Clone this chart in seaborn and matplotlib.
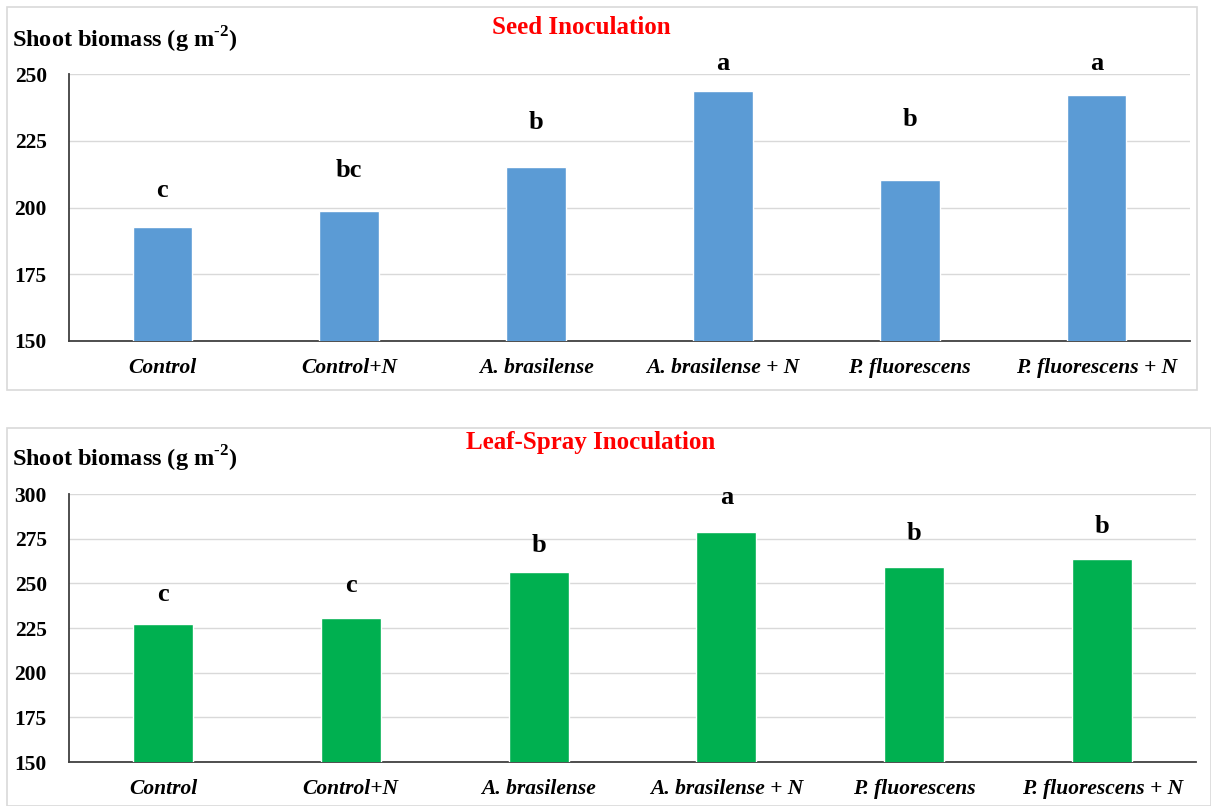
import pandas as pd
import matplotlib.pyplot as plt
import seaborn as sns
from matplotlib.patches import Rectangle

treatments = ['Control', 'Control+N', 'A. brasilense', 'A. brasilense + N',
              'P. fluorescens', 'P. fluorescens + N']

seed_biomass = [192.7, 198.7, 215.2, 243.6, 210.3, 242.1]
seed_letters = ['c', 'bc', 'b', 'a', 'b', 'a']
seed_letter_y = [206.5, 213.7, 232, 254, 233, 254]

spray_biomass = [227.2, 230.6, 256.3, 278.7, 259.1, 263.6]
spray_letters = ['c', 'c', 'b', 'a', 'b', 'b']
spray_letter_y = [243.5, 249, 271.4, 298.3, 278, 282]

sns.set_theme(style="white")
plt.rcParams['font.family'] = ['Liberation Serif', 'DejaVu Serif']
plt.rcParams['mathtext.fontset'] = 'custom'
plt.rcParams['mathtext.rm'] = 'Liberation Serif:bold'
plt.rcParams['mathtext.bf'] = 'Liberation Serif:bold'
plt.rcParams['text.color'] = 'black'

W, H = 1211, 806
fig = plt.figure(figsize=(W / 100, H / 100), dpi=100)


def px(x0, y0, x1, y1):
    return [x0 / W, 1 - y1 / H, (x1 - x0) / W, (y1 - y0) / H]


def panel(box, frame, values, letters, letter_y, color, ylim, title, title_xy, label_xy):
    fig.patches.append(Rectangle((frame[0] / W, 1 - frame[3] / H),
                                 (frame[2] - frame[0]) / W, (frame[3] - frame[1]) / H,
                                 transform=fig.transFigure, fill=False,
                                 edgecolor='#D9D9D9', linewidth=1.2))
    ax = fig.add_axes(px(*box))
    df = pd.DataFrame({'treatment': treatments, 'biomass': values})
    sns.barplot(data=df, x='treatment', y='biomass', color=color, width=0.32,
                saturation=1, ax=ax, zorder=3)
    ax.set_ylim(*ylim)
    ax.set_yticks(range(ylim[0], ylim[1] + 1, 25))
    ax.yaxis.grid(True, color='#D9D9D9', linewidth=1, zorder=0)
    ax.set_axisbelow(True)
    for s in ['top', 'right']:
        ax.spines[s].set_visible(False)
    ax.spines['left'].set_color('#404040')
    ax.spines['bottom'].set_color('#404040')
    ax.spines['left'].set_linewidth(1.3)
    ax.spines['bottom'].set_linewidth(1.3)
    ax.set_xlabel('')
    ax.set_ylabel('')
    ax.tick_params(axis='y', length=0, pad=16, colors='black')
    ax.tick_params(axis='x', length=0, pad=12, colors='black')
    for t in ax.get_yticklabels():
        t.set_fontsize(15.5)
        t.set_fontweight('bold')
    for t in ax.get_xticklabels():
        t.set_fontsize(15.5)
        t.set_fontweight('bold')
        t.set_fontstyle('italic')
    for i, (lab, ly) in enumerate(zip(letters, letter_y)):
        ax.text(i, ly, lab, ha='center', va='center', fontsize=19, fontweight='bold')
    fig.text(title_xy[0] / W, 1 - title_xy[1] / H, title, color='#FF0000',
             fontsize=18, fontweight='bold', ha='center', va='center')
    fig.text(label_xy[0] / W, 1 - label_xy[1] / H,
             r'Shoot biomass (g m$^{\text{-2}}$)', fontsize=17.5,
             fontweight='bold', ha='left', va='center')
    return ax


panel((69, 74, 1190, 341), (7, 7, 1197, 390), seed_biomass, seed_letters, seed_letter_y,
      '#5B9BD5', (150, 250), 'Seed Inoculation', (581, 28), (12, 40))
panel((69, 494, 1196, 762), (7, 428, 1211, 806), spray_biomass, spray_letters, spray_letter_y,
      '#00B050', (150, 300), 'Leaf-Spray Inoculation', (591, 443), (12, 459))

plt.savefig('out.png', dpi=100)
